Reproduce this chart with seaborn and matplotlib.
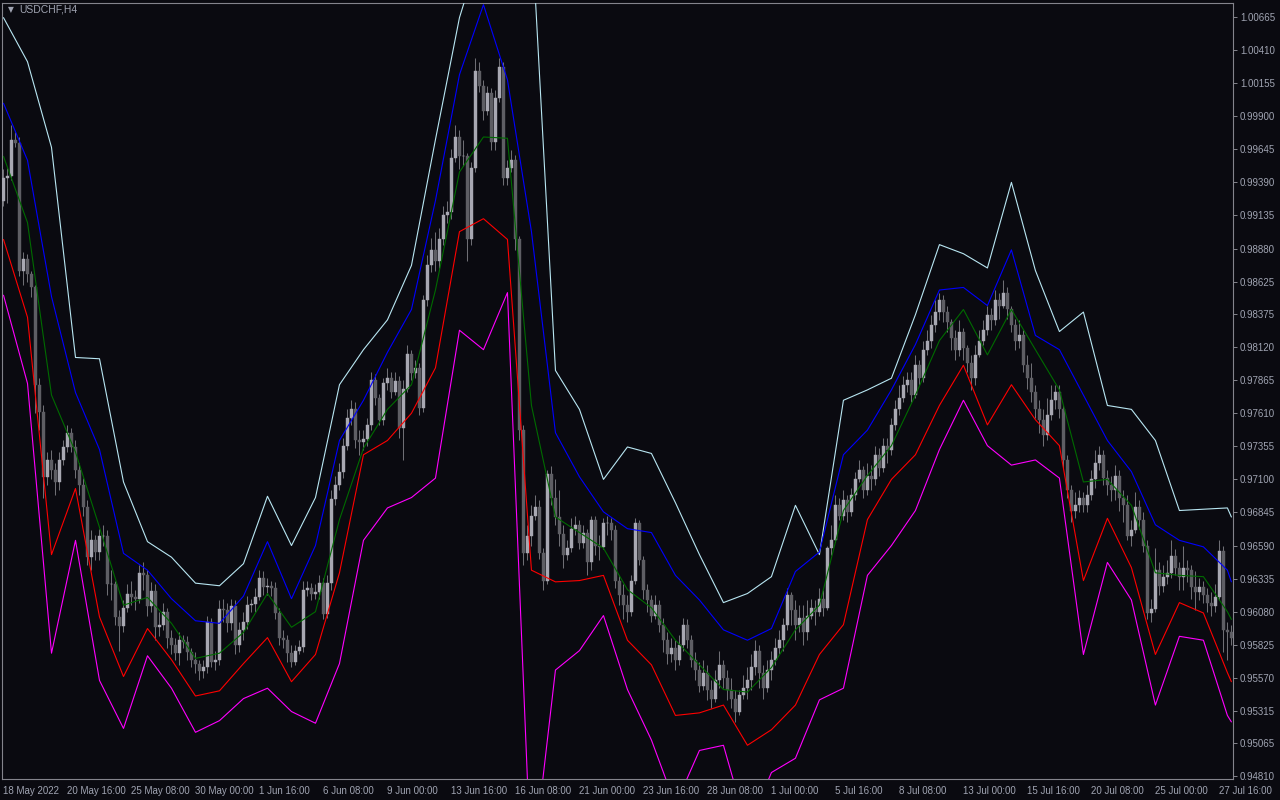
import numpy as np
import pandas as pd
import seaborn as sns
import matplotlib.pyplot as plt

# USDCHF H4 candles, prices in pips (x 1e-4)
symbol = "USDCHF,H4"
first_open = 9925

close_pips = [
    9942, 9944, 9972, 9969, 9871, 9880,
    9868, 9858, 9783, 9762, 9712, 9725,
    9717, 9708, 9725, 9735, 9746, 9735,
    9717, 9706, 9689, 9650, 9663, 9654,
    9666, 9666, 9629, 9629, 9604, 9597,
    9611, 9622, 9619, 9618, 9638, 9636,
    9612, 9624, 9596, 9598, 9608, 9588,
    9582, 9576, 9586, 9585, 9577, 9571,
    9568, 9562, 9565, 9600, 9569, 9571,
    9610, 9609, 9599, 9612, 9582, 9594,
    9600, 9613, 9614, 9619, 9634, 9627,
    9628, 9626, 9607, 9588, 9586, 9576,
    9569, 9578, 9581, 9625, 9626, 9622,
    9623, 9630, 9606, 9630, 9695, 9706,
    9716, 9736, 9757, 9764, 9740, 9739,
    9741, 9752, 9787, 9773, 9756, 9784,
    9788, 9777, 9786, 9750, 9780, 9807,
    9792, 9796, 9765, 9848, 9875, 9887,
    9878, 9895, 9914, 9916, 9958, 9974,
    9959, 9959, 9895, 9950, 10025, 10013,
    9994, 10008, 9970, 10004, 10028, 9942,
    9950, 9956, 9895, 9748, 9653, 9666,
    9682, 9689, 9653, 9632, 9714, 9696,
    9681, 9668, 9652, 9657, 9672, 9675,
    9661, 9669, 9646, 9679, 9659, 9658,
    9676, 9676, 9671, 9632, 9621, 9613,
    9608, 9632, 9676, 9648, 9625, 9617,
    9605, 9613, 9598, 9586, 9575, 9580,
    9571, 9582, 9598, 9586, 9571, 9563,
    9551, 9561, 9548, 9541, 9555, 9567,
    9557, 9548, 9541, 9531, 9544, 9549,
    9555, 9565, 9578, 9561, 9549, 9563,
    9571, 9580, 9586, 9598, 9621, 9609,
    9598, 9603, 9592, 9605, 9611, 9608,
    9618, 9611, 9657, 9663, 9690, 9682,
    9694, 9685, 9698, 9710, 9717, 9702,
    9713, 9710, 9729, 9719, 9736, 9733,
    9752, 9764, 9773, 9783, 9787, 9775,
    9798, 9788, 9810, 9817, 9829, 9839,
    9848, 9839, 9831, 9819, 9810, 9824,
    9811, 9800, 9788, 9806, 9817, 9825,
    9837, 9833, 9848, 9844, 9854, 9841,
    9829, 9817, 9821, 9798, 9788, 9777,
    9764, 9756, 9744, 9760, 9771, 9777,
    9764, 9725, 9702, 9686, 9690, 9696,
    9690, 9698, 9710, 9723, 9729, 9711,
    9706, 9702, 9713, 9696, 9690, 9666,
    9671, 9689, 9679, 9659, 9607, 9610,
    9640, 9628, 9635, 9638, 9651, 9642,
    9635, 9642, 9640, 9627, 9623, 9627,
    9621, 9615, 9612, 9619, 9655, 9594,
    9592, 9588,
]

high_pips = [
    9949, 9950, 9983, 9978, 9974, 9885,
    9884, 9871, 9860, 9788, 9767, 9731,
    9733, 9723, 9731, 9740, 9752, 9750,
    9740, 9723, 9711, 9694, 9671, 9667,
    9672, 9675, 9671, 9640, 9632, 9609,
    9617, 9629, 9632, 9625, 9644, 9646,
    9640, 9631, 9629, 9608, 9615, 9611,
    9594, 9588, 9592, 9590, 9589, 9580,
    9577, 9571, 9571, 9605, 9603, 9578,
    9617, 9618, 9615, 9618, 9617, 9600,
    9608, 9620, 9618, 9626, 9640, 9639,
    9634, 9632, 9631, 9611, 9594, 9590,
    9582, 9582, 9586, 9632, 9632, 9630,
    9629, 9636, 9634, 9636, 9702, 9713,
    9723, 9742, 9764, 9771, 9770, 9748,
    9748, 9757, 9793, 9791, 9776, 9788,
    9796, 9793, 9793, 9790, 9787, 9814,
    9810, 9802, 9800, 9852, 9883, 9896,
    9901, 9904, 9921, 9925, 9965, 9983,
    9979, 9972, 9962, 9955, 10035, 10032,
    10018, 10013, 10012, 10010, 10035, 10032,
    9956, 9964, 9960, 9898, 9752, 9675,
    9690, 9698, 9694, 9657, 9717, 9720,
    9710, 9702, 9675, 9663, 9680, 9682,
    9679, 9675, 9672, 9682, 9682, 9667,
    9680, 9682, 9680, 9675, 9636, 9629,
    9621, 9636, 9680, 9679, 9651, 9629,
    9621, 9621, 9617, 9603, 9592, 9588,
    9586, 9590, 9603, 9602, 9590, 9577,
    9569, 9571, 9567, 9555, 9563, 9578,
    9571, 9563, 9557, 9548, 9548, 9559,
    9565, 9575, 9586, 9582, 9567, 9571,
    9578, 9588, 9594, 9603, 9626, 9623,
    9617, 9613, 9613, 9617, 9618, 9617,
    9626, 9625, 9659, 9675, 9698, 9696,
    9702, 9698, 9703, 9716, 9725, 9720,
    9723, 9721, 9736, 9734, 9742, 9742,
    9757, 9771, 9783, 9790, 9793, 9793,
    9806, 9802, 9817, 9825, 9837, 9848,
    9854, 9852, 9844, 9834, 9825, 9833,
    9827, 9814, 9806, 9814, 9825, 9833,
    9844, 9842, 9856, 9854, 9864, 9858,
    9844, 9834, 9833, 9825, 9806, 9800,
    9783, 9771, 9764, 9773, 9783, 9783,
    9783, 9767, 9729, 9706, 9700, 9702,
    9700, 9706, 9717, 9733, 9736, 9733,
    9717, 9713, 9721, 9717, 9702, 9698,
    9679, 9700, 9694, 9685, 9663, 9618,
    9657, 9646, 9644, 9648, 9663, 9656,
    9646, 9659, 9648, 9644, 9639, 9634,
    9632, 9626, 9623, 9629, 9663, 9659,
    9600, 9598,
]

low_pips = [
    9921, 9923, 9941, 9966, 9867, 9860,
    9862, 9851, 9761, 9748, 9696, 9706,
    9710, 9698, 9702, 9721, 9731, 9731,
    9711, 9698, 9682, 9644, 9640, 9648,
    9648, 9659, 9621, 9617, 9598, 9578,
    9592, 9608, 9613, 9609, 9615, 9625,
    9605, 9608, 9586, 9589, 9594, 9580,
    9575, 9571, 9567, 9580, 9571, 9565,
    9561, 9555, 9557, 9561, 9565, 9563,
    9567, 9600, 9592, 9594, 9575, 9577,
    9586, 9595, 9608, 9608, 9617, 9621,
    9621, 9620, 9602, 9582, 9580, 9569,
    9565, 9567, 9575, 9577, 9620, 9617,
    9618, 9618, 9602, 9603, 9625, 9690,
    9702, 9711, 9733, 9752, 9734, 9729,
    9733, 9736, 9748, 9767, 9752, 9752,
    9779, 9773, 9775, 9742, 9725, 9777,
    9787, 9788, 9760, 9762, 9844, 9870,
    9871, 9873, 9891, 9908, 9911, 9955,
    9949, 9952, 9878, 9891, 9947, 10009,
    9987, 9991, 9964, 9964, 10001, 9937,
    9937, 9947, 9887, 9740, 9644, 9648,
    9659, 9679, 9649, 9625, 9629, 9690,
    9675, 9659, 9642, 9648, 9654, 9667,
    9656, 9657, 9636, 9640, 9652, 9648,
    9656, 9667, 9663, 9626, 9613, 9602,
    9600, 9605, 9629, 9644, 9618, 9608,
    9600, 9602, 9592, 9577, 9568, 9569,
    9563, 9567, 9578, 9580, 9565, 9555,
    9546, 9548, 9540, 9534, 9538, 9549,
    9549, 9540, 9534, 9523, 9528, 9541,
    9541, 9548, 9559, 9549, 9541, 9546,
    9555, 9567, 9575, 9578, 9594, 9598,
    9586, 9592, 9582, 9586, 9602, 9598,
    9605, 9605, 9609, 9652, 9662, 9679,
    9679, 9677, 9682, 9694, 9708, 9696,
    9698, 9702, 9706, 9713, 9716, 9723,
    9729, 9748, 9760, 9770, 9777, 9770,
    9773, 9783, 9785, 9806, 9811, 9824,
    9833, 9831, 9824, 9810, 9802, 9805,
    9802, 9793, 9779, 9783, 9804, 9814,
    9821, 9825, 9829, 9834, 9842, 9834,
    9824, 9810, 9811, 9793, 9780, 9770,
    9757, 9746, 9736, 9740, 9756, 9764,
    9757, 9719, 9696, 9677, 9680, 9685,
    9685, 9685, 9694, 9703, 9717, 9706,
    9698, 9693, 9694, 9686, 9677, 9663,
    9659, 9669, 9672, 9654, 9602, 9600,
    9608, 9621, 9623, 9629, 9634, 9636,
    9625, 9625, 9631, 9618, 9609, 9617,
    9615, 9608, 9605, 9608, 9617, 9577,
    9571, 9582,
]

# daily band values (one per day + last bar), pips
white_pips = [10066, 10032, 9966, 9804, 9803, 9708, 9662, 9650, 9630, 9628,
              9645, 9697, 9659, 9696, 9783, 9810, 9833, 9875, 9972, 10066,
              10126, 10149, 10137, 9794, 9764, 9710, 9735, 9730, 9692, 9652,
              9615, 9622, 9635, 9690, 9652, 9771, 9779, 9788, 9837, 9891,
              9884, 9873, 9939, 9871, 9824, 9839, 9767, 9764, 9740, 9686,
              9687, 9688, 9681]
blue_pips = [10000, 9956, 9851, 9777, 9733, 9653, 9640, 9618, 9601, 9599,
             9620, 9662, 9618, 9659, 9740, 9771, 9808, 9841, 9925, 10022,
             10076, 10018, 9901, 9746, 9712, 9685, 9672, 9669, 9636, 9617,
             9594, 9586, 9595, 9639, 9654, 9729, 9748, 9779, 9814, 9856,
             9858, 9844, 9887, 9821, 9810, 9775, 9740, 9716, 9675, 9663,
             9658, 9640, 9631]
green_pips = [9959, 9908, 9775, 9731, 9673, 9613, 9619, 9599, 9572, 9576,
              9592, 9622, 9596, 9608, 9679, 9734, 9764, 9783, 9856, 9947,
              9974, 9973, 9767, 9681, 9669, 9657, 9625, 9611, 9586, 9567,
              9548, 9546, 9565, 9594, 9613, 9686, 9713, 9736, 9775, 9817,
              9841, 9806, 9841, 9810, 9779, 9708, 9710, 9690, 9638, 9636,
              9635, 9608, 9602]
red_pips = [9895, 9835, 9652, 9703, 9604, 9558, 9595, 9571, 9543, 9547,
            9568, 9588, 9554, 9575, 9638, 9729, 9740, 9761, 9796, 9901,
            9911, 9895, 9640, 9631, 9632, 9636, 9586, 9567, 9528, 9530,
            9536, 9505, 9517, 9536, 9575, 9598, 9679, 9710, 9729, 9767,
            9798, 9752, 9783, 9756, 9736, 9632, 9680, 9642, 9575, 9615,
            9607, 9561, 9554]
magenta_pips = [9852, 9784, 9576, 9663, 9555, 9518, 9574, 9549, 9515, 9524,
                9541, 9549, 9531, 9522, 9568, 9663, 9688, 9696, 9711, 9825,
                9810, 9854, 9403, 9563, 9578, 9605, 9548, 9509, 9459, 9501,
                9505, 9440, 9484, 9495, 9540, 9549, 9636, 9659, 9686, 9733,
                9771, 9736, 9721, 9725, 9711, 9575, 9646, 9617, 9536, 9589,
                9586, 9528, 9523]

date_labels = ["18 May 2022", "20 May 16:00", "25 May 08:00", "30 May 00:00",
               "1 Jun 16:00", "6 Jun 08:00", "9 Jun 00:00", "13 Jun 16:00",
               "16 Jun 08:00", "21 Jun 00:00", "23 Jun 16:00", "28 Jun 08:00",
               "1 Jul 00:00", "5 Jul 16:00", "8 Jul 08:00", "13 Jul 00:00",
               "15 Jul 16:00", "20 Jul 08:00", "25 Jul 00:00", "27 Jul 16:00"]
price_labels = ["1.00665", "1.00410", "1.00155", "0.99900", "0.99645", "0.99390",
                "0.99135", "0.98880", "0.98625", "0.98375", "0.98120", "0.97865",
                "0.97610", "0.97355", "0.97100", "0.96845", "0.96590", "0.96335",
                "0.96080", "0.95825", "0.95570", "0.95315", "0.95065", "0.94810"]

bg = "#0a0a10"
fg = "#a0a4b2"
frame = "#84848c"

sns.set_style("dark", {"axes.facecolor": bg, "figure.facecolor": bg,
                       "axes.edgecolor": frame, "axes.grid": False})
plt.rcParams["font.family"] = ["Liberation Sans", "DejaVu Sans"]

c = np.array(close_pips) / 1e4
h = np.array(high_pips) / 1e4
l = np.array(low_pips) / 1e4
o = np.r_[first_open / 1e4, c[:-1]]
n = len(c)
bars = np.arange(n)
candles = pd.DataFrame({"bar": bars, "open": o, "high": h, "low": l, "close": c})
candles["bull"] = candles["close"] >= candles["open"]

# band lines, one point per trading day (6 H4 bars), last point on the last bar
bands = {"white": white_pips, "blue": blue_pips, "green": green_pips,
         "red": red_pips, "magenta": magenta_pips}
rows = []
for name, vals in bands.items():
    knots = np.minimum(np.arange(len(vals)) * 6, n - 1)
    for k, v in zip(knots, vals):
        rows.append({"bar": k, "price": v / 1e4, "band": name})
band_df = pd.DataFrame(rows)
palette = {"white": "#b8e6f2", "blue": "#0000ff", "green": "#006b00",
           "red": "#ff0000", "magenta": "#ff00ff"}

fig = plt.figure(figsize=(12.8, 8), dpi=100)
ax = fig.add_axes([2 / 1280, 21 / 800, 1231 / 1280, 776 / 800])

body_col = np.where(candles["bull"], "#a8a8b2", "#5e5e64")
ax.vlines(candles["bar"], candles["low"], candles["high"], color="#6e6e74", lw=0.75, zorder=2)
lo = np.minimum(candles["open"], candles["close"])
ht = np.maximum(np.abs(candles["close"] - candles["open"]), 0.00002)
ax.bar(candles["bar"], ht, bottom=lo, width=0.72, color=body_col,
       edgecolor=body_col, linewidth=0.3, zorder=3)

sns.lineplot(data=band_df, x="bar", y="price", hue="band", palette=palette,
             estimator=None, legend=False, lw=0.8, ax=ax, zorder=4)

ax.set_xlim(-0.375, 307.4)
ax.set_ylim(0.94790, 1.00773)

ax.yaxis.tick_right()
ax.set_yticks([float(s) for s in price_labels])
ax.set_yticklabels(price_labels)
ax.set_xticks(np.arange(len(date_labels)) * 16)
ax.set_xticklabels(date_labels, ha="left")
ax.tick_params(axis="both", colors=frame, labelcolor=fg, labelsize=7,
               length=3, width=0.7, direction="out")
ax.tick_params(axis="y", pad=2)
ax.tick_params(axis="x", pad=2)
ax.set_xlabel("")
ax.set_ylabel("")
for sp in ax.spines.values():
    sp.set_color(frame)
    sp.set_linewidth(0.8)

fig.text(8 / 1280, 1 - 10 / 800, "\u25bc", color=fg, fontsize=5.5,
         va="center", ha="left", family=["DejaVu Sans"])
fig.text(19 / 1280, 1 - 10 / 800, symbol, color=fg, fontsize=7.5,
         va="center", ha="left")

plt.savefig("out.png", dpi=100, facecolor=bg)
